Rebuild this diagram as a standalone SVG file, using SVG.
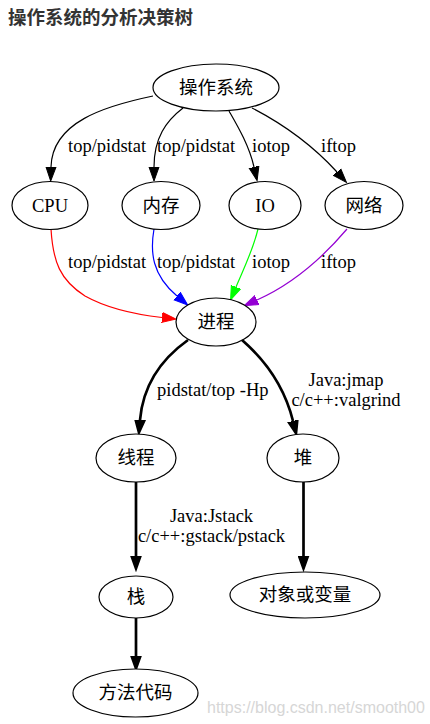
<svg xmlns="http://www.w3.org/2000/svg" width="430" height="724" viewBox="0 0 430 724">
<style>
.n ellipse{fill:#fff;stroke:#000;stroke-width:1.2}
.cj{font-family:"Noto Sans CJK SC","Noto Sans",sans-serif;font-size:18.5px;text-anchor:middle;fill:#000}
.tm{font-family:"Liberation Serif","Times New Roman",serif;font-size:18.5px;fill:#000}
.nl{text-anchor:middle}
.e path{fill:none;stroke-width:1.2}
.e path.b{stroke-width:2.7;stroke:#000}
</style>
<defs>
<marker id="ak" markerUnits="userSpaceOnUse" viewBox="0 -6 16 12" refX="0" refY="0" markerWidth="16" markerHeight="12" orient="auto"><path d="M0,-5 L14,0 L0,5 Z" fill="#000" stroke="#000" stroke-width="1"/></marker>
<marker id="ab" markerUnits="userSpaceOnUse" viewBox="0 -6 16 12" refX="0" refY="0" markerWidth="16" markerHeight="12" orient="auto"><path d="M0,-5 L14,0 L0,5 Z" fill="#000" stroke="#000" stroke-width="1.6"/></marker>
<marker id="ar" markerUnits="userSpaceOnUse" viewBox="0 -6 16 12" refX="0" refY="0" markerWidth="16" markerHeight="12" orient="auto"><path d="M0,-5 L14,0 L0,5 Z" fill="#f00" stroke="#f00" stroke-width="1"/></marker>
<marker id="au" markerUnits="userSpaceOnUse" viewBox="0 -6 16 12" refX="0" refY="0" markerWidth="16" markerHeight="12" orient="auto"><path d="M0,-5 L14,0 L0,5 Z" fill="#00f" stroke="#00f" stroke-width="1"/></marker>
<marker id="ag" markerUnits="userSpaceOnUse" viewBox="0 -6 16 12" refX="0" refY="0" markerWidth="16" markerHeight="12" orient="auto"><path d="M0,-5 L14,0 L0,5 Z" fill="#0f0" stroke="#0f0" stroke-width="1"/></marker>
<marker id="ap" markerUnits="userSpaceOnUse" viewBox="0 -6 16 12" refX="0" refY="0" markerWidth="16" markerHeight="12" orient="auto"><path d="M0,-5 L14,0 L0,5 Z" fill="#9400d3" stroke="#9400d3" stroke-width="1"/></marker>
</defs>
<rect width="430" height="724" fill="#fff"/>
<text x="8" y="23.5" font-family="'Noto Sans CJK SC',sans-serif" font-size="18.5" font-weight="bold" fill="#333">操作系统的分析决策树</text>

<g id="edges" class="e">
<path d="M153,96 C105,106 52,122 51,167" stroke="#000" marker-end="url(#ak)"/>
<path d="M183,108 C166,121 154,138 154,167" stroke="#000" marker-end="url(#ak)"/>
<path d="M229,111 C237,125 249,145 254,167" stroke="#000" marker-end="url(#ak)"/>
<path d="M252,108 C285,125 315,148 337,172" stroke="#000" marker-end="url(#ak)"/>
<path d="M51,229 C53,262 60,280 85,296 C110,310 140,315 162,317.5" stroke="#f00" marker-end="url(#ar)"/>
<path d="M154,229 C150,252 152,275 177,296" stroke="#00f" marker-end="url(#au)"/>
<path d="M258,229 C253,250 244,268 236,287" stroke="#0f0" marker-end="url(#ag)"/>
<path d="M347,229 C325,255 295,283 257,300" stroke="#9400d3" marker-end="url(#ap)"/>
<path class="b" d="M188,340 C160,360 143,385 140,420" marker-end="url(#ab)"/>
<path class="b" d="M242,340 C265,360 284,385 293,421" marker-end="url(#ab)"/>
<path class="b" d="M136,482 L136,556" marker-end="url(#ab)"/>
<path class="b" d="M303.5,482 L303.5,556" marker-end="url(#ab)"/>
<path class="b" d="M136,618 L136,656" marker-end="url(#ab)"/>
<text class="tm" x="68" y="152">top/pidstat</text>
<text class="tm" x="157" y="152">top/pidstat</text>
<text class="tm" x="252" y="152">iotop</text>
<text class="tm" x="321" y="152">iftop</text>
<text class="tm" x="68" y="268">top/pidstat</text>
<text class="tm" x="157" y="268">top/pidstat</text>
<text class="tm" x="252" y="268">iotop</text>
<text class="tm" x="321" y="268">iftop</text>
<text class="tm" x="157" y="396">pidstat/top -Hp</text>
<text class="tm nl" x="346" y="386">Java:jmap</text>
<text class="tm nl" x="346" y="406">c/c++:valgrind</text>
<text class="tm nl" x="211.5" y="522">Java:Jstack</text>
<text class="tm nl" x="211.5" y="542">c/c++:gstack/pstack</text>
</g>

<g id="os" class="n"><ellipse cx="216" cy="87.5" rx="63" ry="23.5"/><text class="cj" x="216" y="94">操作系统</text></g>
<g id="cpu" class="n"><ellipse cx="50" cy="205.5" rx="38" ry="24"/><text class="tm nl" x="50" y="212">CPU</text></g>
<g id="mem" class="n"><ellipse cx="161" cy="205.5" rx="39" ry="24"/><text class="cj" x="161" y="212">内存</text></g>
<g id="io" class="n"><ellipse cx="265" cy="205.5" rx="36" ry="24"/><text class="tm nl" x="265" y="212">IO</text></g>
<g id="net" class="n"><ellipse cx="364" cy="205.5" rx="39" ry="24"/><text class="cj" x="364" y="212">网络</text></g>
<g id="proc" class="n"><ellipse cx="216" cy="322" rx="40" ry="24"/><text class="cj" x="216" y="328">进程</text></g>
<g id="thread" class="n"><ellipse cx="136" cy="458" rx="40" ry="24"/><text class="cj" x="136" y="464">线程</text></g>
<g id="heap" class="n"><ellipse cx="303" cy="458" rx="36" ry="24"/><text class="cj" x="303" y="464">堆</text></g>
<g id="stack" class="n"><ellipse cx="136" cy="597" rx="37" ry="21"/><text class="cj" x="136" y="603">栈</text></g>
<g id="obj" class="n"><ellipse cx="305" cy="595" rx="75" ry="23"/><text class="cj" x="305" y="601">对象或变量</text></g>
<g id="method" class="n"><ellipse cx="135.5" cy="693" rx="62.5" ry="24"/><text class="cj" x="135.5" y="699">方法代码</text></g>

<text x="207" y="713" font-family="'Liberation Sans',Arial,sans-serif" font-size="16" fill="#d6d6d6">https://blog.csdn.net/smooth00</text>
</svg>
